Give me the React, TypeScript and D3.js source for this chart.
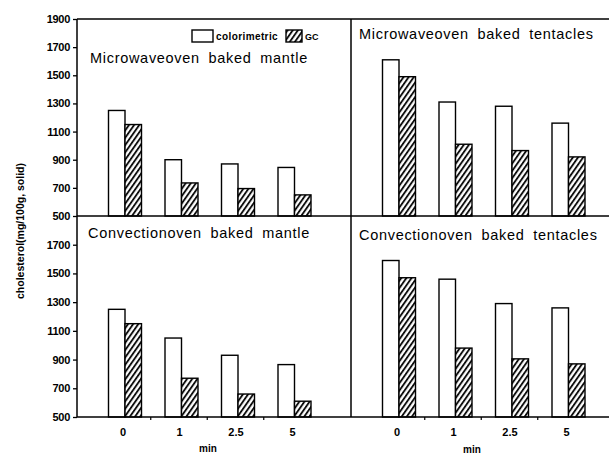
import React, {useRef, useEffect} from 'react'
import * as d3 from 'd3'

// heating time (min) and the two methods
const times = ['0', '1', '2.5', '5']
const methods = ['colorimetric', 'GC']

// cholesterol, mg/100g solid
const microwaveMantleColor = [1250, 900, 870, 845]
const microwaveMantleGC = [1150, 735, 695, 650]
const microwaveTentacleColor = [1610, 1310, 1280, 1160]
const microwaveTentacleGC = [1490, 1010, 965, 920]
const convectionMantleColor = [1250, 1050, 930, 865]
const convectionMantleGC = [1150, 770, 660, 610]
const convectionTentacleColor = [1590, 1460, 1290, 1260]
const convectionTentacleGC = [1470, 980, 905, 870]

const panelTitles = [
  'Microwaveoven baked mantle',
  'Microwaveoven baked tentacles',
  'Convectionoven baked mantle',
  'Convectionoven baked tentacles'
]
const topTicks = [500, 700, 900, 1100, 1300, 1500, 1700, 1900]
const bottomTicks = [500, 700, 900, 1100, 1300, 1500, 1700]
const yLabel = 'cholesterol(mg/100g, solid)'
const xLabel = 'min'

const W = 609
const H = 455
const font = '"Liberation Sans", Arial, sans-serif'

function App() {
  const svgRef = useRef<SVGSVGElement>(null)

  useEffect(() => {
    const svg = d3.select(svgRef.current)
    svg.selectAll('*').remove()

    // "/" hatching, a bit steeper than 45 degrees like the scan
    const defs = svg.append('defs')
    const pat = defs
      .append('pattern')
      .attr('id', 'hatch')
      .attr('patternUnits', 'userSpaceOnUse')
      .attr('width', 4.2)
      .attr('height', 10)
      .attr('patternTransform', 'rotate(35)')
    pat
      .append('rect')
      .attr('width', 4.2)
      .attr('height', 10)
      .attr('fill', '#fff')
    pat
      .append('line')
      .attr('x1', 1)
      .attr('x2', 1)
      .attr('y1', 0)
      .attr('y2', 10)
      .attr('stroke', '#000')
      .attr('stroke-width', 1.8)

    const cols = [{x0: 77, x1: 351}, {x0: 351, x1: 609}]
    const rows = [
      {y0: 19, y1: 216, ticks: topTicks},
      {y0: 216, y1: 417, ticks: bottomTicks}
    ]
    const panels = [
      {r: 0, c: 0, vals: [microwaveMantleColor, microwaveMantleGC]},
      {r: 0, c: 1, vals: [microwaveTentacleColor, microwaveTentacleGC]},
      {r: 1, c: 0, vals: [convectionMantleColor, convectionMantleGC]},
      {r: 1, c: 1, vals: [convectionTentacleColor, convectionTentacleGC]}
    ]

    const inner = d3
      .scaleBand()
      .domain(methods)
      .range([-14, 19])
      .padding(0)

    panels.forEach((p, i) => {
      const {x0} = cols[p.c]
      const {y0, y1} = rows[p.r]
      const x = d3
        .scalePoint()
        .domain(times)
        .range([x0 + 45.5, x0 + 215])
      const y = d3
        .scaleLinear()
        .domain([500, 1900])
        .range([y1, y0])

      const g = svg.append('g')
      methods.forEach((m, mi) => {
        g.selectAll(null)
          .data(p.vals[mi])
          .enter()
          .append('rect')
          .attr('x', (d, j) => (x(times[j]) as number) + (inner(m) as number))
          .attr('y', d => y(d))
          .attr('width', inner.bandwidth())
          .attr('height', d => y(500) - y(d))
          .attr('fill', mi === 0 ? '#fff' : 'url(#hatch)')
          .attr('stroke', '#000')
          .attr('stroke-width', 1.4)
      })

      const titleY = [[63, 39], [238, 240]][p.r][p.c]
      g.append('text')
        .attr('x', x0 + [13, 8][p.c] - (p.r === 1 && p.c === 0 ? 2 : 0))
        .attr('y', titleY)
        .attr('font-family', font)
        .attr('font-size', 14.5)
        .attr('letter-spacing', 0.7)
        .attr('word-spacing', 4)
        .attr('fill', '#000')
        .text(panelTitles[i])

      // y axis only on the left column
      if (p.c === 0) {
        const axis = d3
          .axisLeft(y)
          .tickValues(rows[p.r].ticks)
          .tickSize(4)
          .tickPadding(3)
          .tickFormat(d3.format('d'))
        const ag = svg
          .append('g')
          .attr('transform', `translate(${x0},0)`)
          .call(axis)
        ag.select('.domain').remove()
        ag.selectAll('line').attr('stroke', '#000').attr('stroke-width', 1.3)
        ag.selectAll('text')
          .attr('font-family', font)
          .attr('font-size', 11)
          .attr('font-weight', 'bold')
          .attr('letter-spacing', -0.3)
          .attr('fill', '#000')
      }

      // category labels under the bottom row
      if (p.r === 1) {
        const xa = d3.axisBottom(x).tickSize(0).tickPadding(11)
        const xg = svg
          .append('g')
          .attr('transform', `translate(0,${y1})`)
          .call(xa)
        xg.select('.domain').remove()
        xg.selectAll('text')
          .attr('font-family', font)
          .attr('font-size', 11)
          .attr('font-weight', 'bold')
          .attr('fill', '#000')
        // small marks between groups
        const step = x.step()
        g.selectAll(null)
          .data(times.slice(0, -1))
          .enter()
          .append('line')
          .attr('x1', d => (x(d) as number) + step / 2)
          .attr('x2', d => (x(d) as number) + step / 2)
          .attr('y1', y1)
          .attr('y2', y1 + 3)
          .attr('stroke', '#000')
          .attr('stroke-width', 1.2)

        svg
          .append('text')
          .attr('x', x0 + [131, 121][p.c])
          .attr('y', [452, 453][p.c])
          .attr('text-anchor', 'middle')
          .attr('font-family', font)
          .attr('font-size', 10)
          .attr('font-weight', 'bold')
          .attr('fill', '#000')
          .text(xLabel)
      }
    })

    // frame
    const frame = svg.append('g').attr('stroke', '#000').attr('stroke-width', 1.5)
    ;[19, 216, 417].forEach(yy => {
      frame
        .append('line')
        .attr('x1', 77)
        .attr('x2', W)
        .attr('y1', yy)
        .attr('y2', yy)
    })
    ;[77, 351].forEach(xx => {
      frame
        .append('line')
        .attr('x1', xx)
        .attr('x2', xx)
        .attr('y1', 19)
        .attr('y2', 417)
    })

    // legend, top-left panel
    const lg = svg.append('g')
    const legendItems = [
      {name: methods[0], x: 192, w: 21, fill: '#fff'},
      {name: methods[1], x: 286, w: 16, fill: 'url(#hatch)'}
    ]
    legendItems.forEach(it => {
      lg.append('rect')
        .attr('x', it.x)
        .attr('y', 30)
        .attr('width', it.w)
        .attr('height', 12)
        .attr('fill', it.fill)
        .attr('stroke', '#000')
        .attr('stroke-width', 1.4)
      lg.append('text')
        .attr('x', it.x + it.w + 3)
        .attr('y', 39.5)
        .attr('font-family', font)
        .attr('font-size', it.name === 'GC' ? 9 : 10)
        .attr('font-weight', 'bold')
        .attr('letter-spacing', it.name === 'GC' ? 0 : 0.4)
        .attr('fill', '#000')
        .text(it.name)
    })

    svg
      .append('text')
      .attr('transform', 'translate(24,231) rotate(-90)')
      .attr('text-anchor', 'middle')
      .attr('font-family', font)
      .attr('font-size', 10.5)
      .attr('font-weight', 'bold')
      .attr('fill', '#000')
      .text(yLabel)
  }, [])

  return (
    <svg
      ref={svgRef}
      width={W}
      height={H}
      style={{position: 'fixed', left: 0, top: 0, background: '#fff'}}
    />
  )
}

export default App
